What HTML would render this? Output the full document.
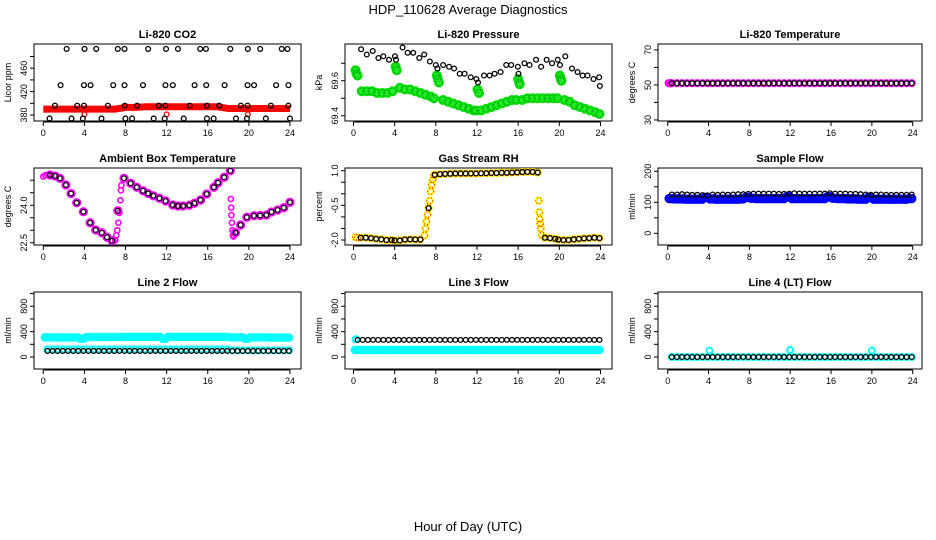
<!DOCTYPE html>
<html><head><meta charset="utf-8"><style>
html,body{margin:0;padding:0;background:#fff;}
svg{display:block;font-family:"Liberation Sans",sans-serif;}
</style></head><body>
<svg id="chart" width="936" height="540" viewBox="0 0 936 540" xmlns="http://www.w3.org/2000/svg">
<rect x="0" y="0" width="936" height="540" fill="#fff"/>
<text x="468" y="14" text-anchor="middle" font-size="13">HDP_110628  Average Diagnostics</text>
<text x="468" y="531" text-anchor="middle" font-size="13">Hour of Day (UTC)</text>
</svg>
<script>
// ---------- data ----------
const halfHours = [0.4,0.9,1.4,1.9,2.4,2.9,3.4,3.9,4.4,4.9,5.4,5.9,6.4,6.9,7.4,7.9,8.4,8.9,9.4,9.9,10.4,10.9,11.4,11.9,12.4,12.9,13.4,13.9,14.4,14.9,15.4,15.9,16.4,16.9,17.4,17.9,18.4,18.9,19.4,19.9,20.4,20.9,21.4,21.9,22.4,22.9,23.4,23.9];
const xTicks = [0,4,8,12,16,20,24];

// CO2
const co2TopHours = [2.27,4.01,5.15,7.25,7.9,10.2,11.94,13.1,15.27,15.82,18.19,19.9,21.1,23.2,23.75];
const co2MidHours = [1.68,3.95,4.6,6.8,7.9,9.7,11.88,12.6,14.72,15.85,17.64,19.87,20.5,22.65,23.85];
const co2LowHours = [1.13,3.3,3.95,6.28,7.93,9.13,11.23,11.88,14.24,15.92,17.12,19.22,19.87,22.14,23.85];
const co2BotHours = [0.61,2.75,3.85,5.66,7.99,8.64,10.74,11.81,13.66,15.92,16.57,18.74,19.81,21.65,24.0];
const co2Levels = [493,431,396,374];
const co2RedHours = [0,1,2,3,4,5,6,7,8,9,10,11,12,13,14,15,16,17,18,19,20,21,22,23,24];
const co2RedValues = [390,390,390,390,390,390,390,390,393,393,394,394,394,394,394,394,394,394,391,391,391,391,391,391,391];
const co2OutHours = [4.0,12.0,19.9];
const co2OutValues = [381,381,381];

// Pressure
const presBlackHours = [0.74,1.29,1.87,2.42,2.9,3.45,4.03,4.13,4.77,5.26,5.8,6.39,6.87,7.42,8.0,8.16,8.71,9.29,9.77,10.32,10.8,11.39,11.94,12.1,12.68,13.23,13.71,14.29,14.84,15.32,15.97,16.03,16.61,17.1,17.74,18.23,18.77,19.29,19.84,20.06,20.58,21.23,21.77,22.26,22.74,23.32,23.87,23.94];
const presBlackValues = [69.78,69.75,69.77,69.73,69.74,69.72,69.74,69.72,69.79,69.76,69.76,69.73,69.75,69.71,69.69,69.67,69.69,69.68,69.67,69.64,69.64,69.62,69.61,69.59,69.63,69.63,69.64,69.65,69.69,69.69,69.68,69.64,69.70,69.69,69.72,69.68,69.72,69.70,69.72,69.69,69.74,69.67,69.65,69.63,69.63,69.61,69.62,69.57];
const presGreenHours = [0.2,0.3,0.4,0.8,1.3,1.8,2.3,2.8,3.3,3.8,4.1,4.2,4.5,5.0,5.5,6.0,6.5,7.0,7.5,7.8,8.1,8.2,8.3,8.7,9.2,9.7,10.2,10.7,11.2,11.7,11.9,12.05,12.2,12.4,12.9,13.4,13.9,14.4,14.9,15.4,15.8,16.0,16.1,16.15,16.4,16.9,17.4,17.9,18.4,18.9,19.4,19.8,20.05,20.15,20.2,20.5,21.0,21.5,22.0,22.5,23.0,23.5,23.9];
const presGreenValues = [69.66,69.64,69.63,69.54,69.54,69.54,69.53,69.53,69.53,69.54,69.68,69.66,69.56,69.55,69.55,69.54,69.53,69.52,69.51,69.50,69.63,69.61,69.59,69.49,69.48,69.47,69.46,69.45,69.44,69.43,69.43,69.55,69.53,69.43,69.44,69.45,69.46,69.47,69.48,69.49,69.49,69.61,69.59,69.58,69.49,69.50,69.50,69.50,69.50,69.50,69.50,69.50,69.63,69.61,69.60,69.49,69.48,69.46,69.45,69.44,69.43,69.42,69.41];

// Li-820 temperature
const tempValues = [51,51,51,51,51,51,51,51,51,51,51,51,51,51,51,51,51,51,51,51,51,51,51,51,51,51,51,51,51,51,51,51,51,51,51,51,51,51,51,51,51,51,51,51,51,51,51,51];
const tempMagHours = [0.1,0.2,0.3];
const tempMagValues = [51,51,51];

// Ambient box temperature
const ambHours = [0.65,1.14,1.62,2.2,2.7,3.25,3.9,4.55,5.1,5.7,6.2,6.7,7.25,7.85,8.5,9.1,9.7,10.2,10.7,11.3,11.9,12.6,13.1,13.6,14.2,14.7,15.3,15.9,16.6,17.0,17.6,18.2,18.7,19.2,19.8,20.5,21.1,21.7,22.2,22.8,23.4,24.0];
const ambValues = [25.21,25.17,25.08,24.81,24.47,24.10,23.74,23.30,23.01,22.90,22.72,22.58,23.78,25.08,24.88,24.72,24.58,24.47,24.38,24.28,24.17,24.01,23.97,23.97,24.00,24.08,24.21,24.45,24.72,24.90,25.12,25.38,22.90,23.21,23.52,23.58,23.59,23.61,23.73,23.81,23.90,24.12];
const ambMagHours = [0.0,0.2,0.4,7.0,7.1,7.2,7.3,7.4,7.5,7.55,7.6,18.25,18.28,18.3,18.35,18.4,18.45,18.5];
const ambMagValues = [25.15,25.2,25.22,22.6,22.8,23.0,23.3,23.7,24.2,24.6,24.8,24.25,23.9,23.6,23.3,23.0,22.8,22.75];

// Gas stream RH
const rhHours = [0.7,1.2,1.7,2.2,2.7,3.2,3.7,4.0,4.5,5.0,5.5,6.0,6.5,7.3,7.9,8.4,8.9,9.4,9.9,10.4,10.9,11.4,11.9,12.4,12.9,13.4,13.9,14.4,14.9,15.4,15.9,16.4,16.9,17.4,17.9,18.6,19.1,19.6,19.9,20.4,20.9,21.4,21.9,22.4,22.9,23.4,23.9];
const rhValues = [-1.9,-1.9,-1.92,-1.95,-1.97,-2.0,-2.0,-2.02,-2.02,-1.98,-1.97,-1.98,-1.98,-0.62,0.82,0.85,0.86,0.87,0.88,0.88,0.88,0.88,0.88,0.89,0.89,0.9,0.9,0.91,0.91,0.92,0.93,0.94,0.95,0.95,0.92,-1.9,-1.92,-1.95,-1.98,-2.0,-2.0,-1.97,-1.95,-1.93,-1.92,-1.9,-1.92];
const rhExtraHours = [0.2,0.4,6.9,7.0,7.1,7.2,7.3,7.4,7.5,7.6,7.7,7.8,18.0,18.05,18.1,18.15,18.2,18.3];
const rhExtraValues = [-1.88,-1.9,-1.8,-1.5,-1.2,-0.9,-0.6,-0.3,0.1,0.4,0.6,0.8,-0.3,-0.8,-1.1,-1.3,-1.5,-1.8];

// Sample flow
const sampleBlack = [125,125,126,125,124,124,123,122,125,124,125,124,125,126,126,127,128,128,128,128,128,127,127,128,129,128,128,128,128,128,128,129,128,128,128,127,127,126,125,124,125,125,124,124,124,124,124,125];
const sampleBlue = [112,111,111,110,110,110,110,116,111,110,110,110,110,110,111,116,113,112,112,112,112,112,112,118,112,112,112,112,112,112,112,118,113,112,112,111,111,110,110,116,110,110,110,110,110,110,110,112];

// Line 2
const line2CyanHigh = [310,310,310,308,308,308,308,285,312,315,315,315,315,315,315,315,318,318,318,318,318,318,318,285,318,318,318,318,318,318,318,318,318,318,318,318,310,310,310,285,310,310,310,310,305,305,305,305];
const line2CyanLow = [120,120,120,120,120,120,120,120,120,120,120,120,120,120,120,120,120,120,120,120,120,120,120,120,120,120,120,120,120,120,120,120,120,120,120,120,105,105,105,105,105,105,105,105,105,105,105,105];
const line2Black = [95,95,95,95,95,95,95,95,95,95,95,95,95,95,95,95,95,95,95,95,95,95,95,95,95,95,95,95,95,95,95,95,95,95,95,95,95,95,95,95,95,95,95,95,95,95,95,95];
// Line 3
const line3Black = [270,270,270,270,270,270,270,270,270,270,270,270,270,270,270,270,270,270,270,270,270,270,270,270,270,270,270,270,270,270,270,270,270,270,270,270,270,270,270,270,270,270,270,270,270,270,270,270];
const line3Cyan = [110,110,110,110,110,110,110,110,110,110,110,110,110,110,110,110,110,110,110,110,110,110,110,110,110,110,110,110,110,110,110,110,110,110,110,110,110,110,110,110,110,110,110,110,110,110,110,110];
const line3CyanStartHours = [0.2];
const line3CyanStartValues = [280];
// Line 4
const line4Black = [0,0,0,0,0,0,0,0,0,0,0,0,0,0,0,0,0,0,0,0,0,0,0,0,0,0,0,0,0,0,0,0,0,0,0,0,0,0,0,0,0,0,0,0,0,0,0,0];
const line4Cyan = [0,0,0,0,0,0,0,0,0,0,0,0,0,0,0,0,0,0,0,0,0,0,0,0,0,0,0,0,0,0,0,0,0,0,0,0,0,0,0,0,0,0,0,0,0,0,0,0];
const line4OutHours = [4.1,12.0,20.0];
const line4OutValues = [100,110,100];

// ---------- drawing ----------
const NS = "http://www.w3.org/2000/svg";
const svg = document.getElementById('chart');
const cols = [{l:34,r:301,x0:43.3,x24:290,yt:8},{l:345,r:612,x0:353.5,x24:600.5,yt:319},{l:658,r:922,x0:667.7,x24:912.7,yt:632}];
const rows = [{t:44,b:121},{t:168,b:245},{t:292,b:369}];

function mk(tag, attrs, parent){
  const e = document.createElementNS(NS, tag);
  for (const k in attrs) e.setAttribute(k, attrs[k]);
  (parent||svg).appendChild(e);
  return e;
}

function panel(ci, ri, title, ytitle, dom, ticks, labels, name){
  const c = cols[ci], r = rows[ri];
  const g = mk('g', {});
  
  
  const xs = h => c.x0 + (c.x24 - c.x0) * h / 24;
  const ys = v => r.b - (v - dom[0]) / (dom[1] - dom[0]) * (r.b - r.t);
  const box = mk('rect', {x:c.l, y:r.t, width:c.r-c.l, height:r.b-r.t, fill:'none', stroke:'#000', 'stroke-width':1}, g);
  
  
  const tt = mk('text', {x:(c.l+c.r)/2, y:r.t-6, 'text-anchor':'middle', 'font-size':11, 'font-weight':'bold'}, g);
  tt.textContent = title;
  
  
  const yt = mk('text', {x:0, y:0, 'text-anchor':'middle', 'font-size':9, transform:`translate(${c.yt+3},${(r.t+r.b)/2}) rotate(-90)`}, g);
  yt.textContent = ytitle;
  
  
  // x axis
  const xa = mk('g', {}, g);
  
  
  mk('line', {x1:xs(xTicks[0]), x2:xs(xTicks[xTicks.length-1]), y1:r.b+1, y2:r.b+1, stroke:'#000'}, xa);
  xTicks.forEach(t => {
    mk('line', {x1:xs(t), x2:xs(t), y1:r.b+1, y2:r.b+5, stroke:'#000'}, xa);
    const lb = mk('text', {x:xs(t), y:r.b+15, 'text-anchor':'middle', 'font-size':9}, xa);
    lb.textContent = t;
    
    
  });
  // y axis
  const ya = mk('g', {}, g);
  
  
  mk('line', {x1:c.l, x2:c.l, y1:ys(ticks[0]), y2:ys(ticks[ticks.length-1]), stroke:'#000'}, ya);
  ticks.forEach(t => {
    mk('line', {x1:c.l-4, x2:c.l, y1:ys(t), y2:ys(t), stroke:'#000'}, ya);
  });
  labels.forEach(t => {
    const lb = mk('text', {x:0, y:0, 'text-anchor':'middle', 'font-size':9, transform:`translate(${c.l-7},${ys(+t)}) rotate(-90)`}, ya);
    lb.textContent = t;
    
    
  });
  const clip = 'clip' + ci + ri;
  const cp = mk('clipPath', {id:clip}, g);
  mk('rect', {x:c.l, y:r.t, width:c.r-c.l, height:r.b-r.t}, cp);
  const pg = mk('g', {'clip-path':`url(#${clip})`}, g);
  
  
  return {xs, ys, g:pg};
}

function pts(p, hours, vals, opt, sname){
  const sg = mk('g', {}, p.g);
  
  
  hours.forEach((h, i) => {
    const e = mk('circle', {cx:p.xs(h), cy:p.ys(vals[i]), r:opt.r||2.4, fill:opt.fill||'none', stroke:opt.stroke||'#000', 'stroke-width':opt.sw||1.3}, sg);
    if (opt.dash) e.setAttribute('stroke-dasharray', opt.dash);
    
    
  });
}

// Panel 1: CO2
const p1 = panel(0,0,'Li-820 CO2','Licor ppm',[369.7,501.4],[380,400,420,440,460,480],['380','420','460'],'co2');
{
  const sg = mk('polyline', {points:co2RedHours.map((h,i)=>p1.xs(h)+','+p1.ys(co2RedValues[i])).join(' '), fill:'none', stroke:'#f00', 'stroke-width':7}, p1.g);
  
  
}
pts(p1, co2OutHours, co2OutValues, {stroke:'#f00'}, 'co2-red-outliers');
pts(p1, co2TopHours, co2TopHours.map(()=>co2Levels[0]), {}, 'co2-black-top');
pts(p1, co2MidHours, co2MidHours.map(()=>co2Levels[1]), {}, 'co2-black-mid');
pts(p1, co2LowHours, co2LowHours.map(()=>co2Levels[2]), {}, 'co2-black-low');
pts(p1, co2BotHours, co2BotHours.map(()=>co2Levels[3]), {}, 'co2-black-bottom');

// Panel 2: Pressure
const p2 = panel(1,0,'Li-820 Pressure','kPa',[69.37,69.81],[69.4,69.5,69.6,69.7],['69.4','69.6'],'pressure');
pts(p2, presGreenHours, presGreenValues, {r:4, fill:'#22ee22', stroke:'#00dd00', sw:2}, 'pressure-green');
pts(p2, presGreenHours, presGreenValues, {r:3, stroke:'#064', sw:0.6, dash:'1,2'}, 'pressure-green-speckle');
pts(p2, presBlackHours, presBlackValues, {}, 'pressure-black');

// Panel 3: Li-820 Temperature
const p3 = panel(2,0,'Li-820 Temperature','degrees C',[29.4,73.4],[30,40,50,60,70],['30','50','70'],'li820-temp');
pts(p3, halfHours, tempValues, {r:3, stroke:'#f0f', sw:2.2}, 'temp-magenta');
pts(p3, tempMagHours, tempMagValues, {r:3, stroke:'#f0f', sw:2.2}, 'temp-magenta-start');
pts(p3, halfHours, tempValues, {}, 'temp-black');

// Panel 4: Ambient box temperature
const p4 = panel(0,1,'Ambient Box Temperature','degrees C',[22.41,25.49],[22.5,23.0,23.5,24.0,24.5,25.0],['22.5','24.0'],'ambient');
pts(p4, ambHours, ambValues, {r:3.3, stroke:'#f0f', sw:2.6}, 'ambient-magenta');
pts(p4, ambMagHours, ambMagValues, {r:2.6, stroke:'#f0f', sw:1.6}, 'ambient-magenta-extra');
pts(p4, ambHours, ambValues, {}, 'ambient-black');

// Panel 5: RH
const p5 = panel(1,1,'Gas Stream RH','percent',[-2.216,1.117],[-2.0,-1.5,-1.0,-0.5,0.0,0.5,1.0],['-2.0','-0.5','1.0'],'rh');
pts(p5, rhHours, rhValues, {r:3, stroke:'#ff0', sw:2.2}, 'rh-yellow');
pts(p5, rhExtraHours, rhExtraValues, {r:3, stroke:'#ff0', sw:2.2}, 'rh-yellow-extra');
pts(p5, rhHours, rhValues, {r:3, stroke:'#f00', sw:1, dash:'1,2'}, 'rh-red');
pts(p5, rhExtraHours, rhExtraValues, {r:3, stroke:'#f00', sw:1, dash:'1,2'}, 'rh-red-extra');
pts(p5, rhHours, rhValues, {}, 'rh-black');

// Panel 6: Sample flow
const p6 = panel(2,1,'Sample Flow','ml/min',[-37.7,210.6],[0,50,100,150,200],['0','100','200'],'sample-flow');
pts(p6, halfHours, sampleBlue, {r:4, fill:'#0000ff', stroke:'#0000ff', sw:1.5}, 'sample-flow-blue');
pts(p6, halfHours.map(h=>h-0.25), sampleBlue, {r:4, fill:'#0000ff', stroke:'#0000ff', sw:1.5}, 'sample-flow-blue-b');
pts(p6, halfHours, sampleBlack, {}, 'sample-flow-black');

// Panel 7: Line 2
const p7 = panel(0,2,'Line 2 Flow','ml/min',[-189,1025],[0,200,400,600,800,1000],['0','400','800'],'line2');
pts(p7, halfHours, line2CyanHigh, {r:3.5, fill:'#00ffff', stroke:'#00ffff', sw:1.5}, 'line2-cyan-high');
pts(p7, halfHours.map(h=>h-0.25), line2CyanHigh, {r:3.5, fill:'#00ffff', stroke:'#00ffff', sw:1.5}, 'line2-cyan-high-b');
pts(p7, halfHours, line2CyanLow, {r:3, stroke:'#00ffff', sw:2}, 'line2-cyan-low');
pts(p7, halfHours, line2Black, {}, 'line2-black');

// Panel 8: Line 3
const p8 = panel(1,2,'Line 3 Flow','ml/min',[-189,1025],[0,200,400,600,800,1000],['0','400','800'],'line3');
pts(p8, halfHours, line3Cyan, {r:3.5, fill:'#00ffff', stroke:'#00ffff', sw:1.5}, 'line3-cyan');
pts(p8, halfHours.map(h=>h-0.25), line3Cyan, {r:3.5, fill:'#00ffff', stroke:'#00ffff', sw:1.5}, 'line3-cyan-b');
pts(p8, line3CyanStartHours, line3CyanStartValues, {r:3, stroke:'#00ffff', sw:2}, 'line3-cyan-start');
pts(p8, halfHours, line3Black, {}, 'line3-black');

// Panel 9: Line 4
const p9 = panel(2,2,'Line 4 (LT) Flow','ml/min',[-189,1025],[0,200,400,600,800,1000],['0','400','800'],'line4');
pts(p9, halfHours, line4Cyan, {r:3, stroke:'#00ffff', sw:2}, 'line4-cyan');
pts(p9, line4OutHours, line4OutValues, {r:3, stroke:'#00ffff', sw:2}, 'line4-cyan-outliers');
pts(p9, halfHours, line4Black, {}, 'line4-black');
</script>
</body></html>
